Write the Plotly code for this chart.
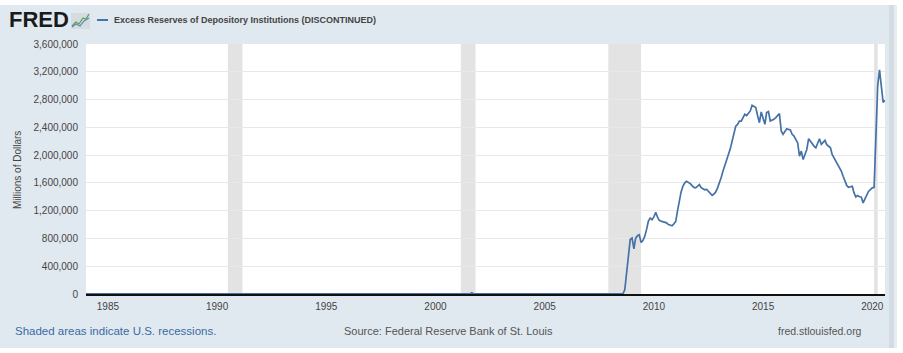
import pandas as pd
import plotly.graph_objects as go

# ---------------- data ----------------
# sparse points for the flat pre-2008 period (millions of dollars)
pre_dates = ["1984-01-01", "1987-01-01", "1990-01-01", "1995-01-01", "2001-08-01",
             "2001-09-01", "2001-10-01", "2005-01-01", "2007-12-01"]
pre_values = [1100, 1200, 1400, 1300, 1300, 19000, 1500, 1600, 1800]

# monthly values from 2008-01 to 2020-08, in thousands of millions of dollars
monthly_start = "2008-01-01"
monthly_values_k = [
    1.7, 1.7, 1.6, 1.9, 1.8, 2.1, 1.9, 1.9, 60, 270, 560, 785,          # 2008
    805, 650, 800, 840, 853, 742, 770, 830, 930, 1050, 1094, 1070,     # 2009
    1110, 1176, 1110, 1060, 1050, 1040, 1030, 1025, 1000, 990, 983, 1010,  # 2010
    1045, 1200, 1359, 1470, 1550, 1600, 1623, 1610, 1590, 1560, 1535, 1528,  # 2011
    1560, 1576, 1530, 1510, 1500, 1505, 1480, 1460, 1421, 1440, 1470, 1528,  # 2012
    1600, 1680, 1769, 1850, 1920, 1985, 2090, 2200, 2320, 2418, 2443, 2490,  # 2013
    2490, 2540, 2588, 2570, 2600, 2636, 2718, 2700, 2684, 2570, 2467, 2622,  # 2014
    2540, 2443, 2612, 2626, 2491, 2500, 2516, 2540, 2570, 2597, 2347, 2299,  # 2015
    2340, 2380, 2370, 2361, 2300, 2275, 2227, 2178, 1985, 2058, 1937, 2000,  # 2016
    2082, 2236, 2200, 2154, 2130, 2106, 2160, 2236, 2154, 2190, 2212, 2150,  # 2017
    2120, 2106, 2010, 1960, 1913, 1870, 1831, 1770, 1696, 1640, 1560, 1537,  # 2018
    1545, 1551, 1460, 1397, 1417, 1400, 1397, 1311, 1370, 1431, 1480, 1503,  # 2019
    1528, 1535, 2250, 2998, 3228, 3030, 2760, 2790,                          # 2020
]

recession_starts = ["1990-07-01", "2001-03-01", "2007-12-01", "2020-02-01"]
recession_ends = ["1991-03-01", "2001-11-01", "2009-06-01", "2020-04-01"]

tick_years = [1985, 1990, 1995, 2000, 2005, 2010, 2015, 2020]
y_ticks = [0, 400000, 800000, 1200000, 1600000, 2000000, 2400000, 2800000, 3200000, 3600000]

series_name = "Excess Reserves of Depository Institutions (DISCONTINUED)"

# ---------------- build ----------------
monthly_dates = pd.date_range(monthly_start, periods=len(monthly_values_k), freq="MS")
dates = list(pd.to_datetime(pre_dates)) + list(monthly_dates)
values = pre_values + [v * 1000 for v in monthly_values_k]

W, H = 903, 353
L, R, T, B = 86, 18, 44, 59
PW, PH = W - L - R, H - T - B


def px(x):
    return (x - L) / PW


def py(y):
    return (H - B - y) / PH


LINE_BLUE = "#4572a7"
BG = "#e1e9f0"
FONT = "Liberation Sans, Arial, sans-serif"

fig = go.Figure()
fig.add_trace(go.Scatter(x=dates, y=values, mode="lines",
                         line=dict(color=LINE_BLUE, width=1.7),
                         name=series_name, showlegend=False, hoverinfo="skip"))

shapes = []
for s, e in zip(recession_starts, recession_ends):
    shapes.append(dict(type="rect", xref="x", yref="paper", x0=s, x1=e, y0=0, y1=1,
                       fillcolor="#e3e3e3", line=dict(width=0), layer="below"))

# white frame around the grey-blue card
shapes.append(dict(type="rect", xref="paper", yref="paper", x0=px(0), x1=px(W), y0=py(-2), y1=py(5),
                   fillcolor="white", line=dict(width=0), layer="above"))
shapes.append(dict(type="rect", xref="paper", yref="paper", x0=px(0), x1=px(W), y0=py(348), y1=py(H + 2),
                   fillcolor="white", line=dict(width=0), layer="above"))
shapes.append(dict(type="rect", xref="paper", yref="paper", x0=px(889), x1=px(894), y0=py(348), y1=py(5),
                   fillcolor="#d3dbe3", line=dict(width=0), layer="above"))
shapes.append(dict(type="rect", xref="paper", yref="paper", x0=px(894), x1=px(897), y0=py(348), y1=py(5),
                   fillcolor="#e8ecf0", line=dict(width=0), layer="above"))
shapes.append(dict(type="rect", xref="paper", yref="paper", x0=px(897), x1=px(W + 2), y0=py(348), y1=py(5),
                   fillcolor="white", line=dict(width=0), layer="above"))

# FRED icon (small chart glyph)
shapes.append(dict(type="rect", xref="paper", yref="paper", x0=px(71), x1=px(90), y0=py(29), y1=py(13),
                   fillcolor="#d6dbe0", line=dict(width=0), layer="above"))
shapes.append(dict(type="path", xref="paper", yref="paper",
                   path=f"M {px(72)},{py(26)} L {px(76)},{py(22)} L {px(79)},{py(24)} L {px(83)},{py(18)} L {px(86)},{py(19)} L {px(89)},{py(14)}",
                   line=dict(color="#5aa050", width=1.2), layer="above"))
shapes.append(dict(type="path", xref="paper", yref="paper",
                   path=f"M {px(72)},{py(27)} L {px(76)},{py(24)} L {px(80)},{py(26)} L {px(84)},{py(21)} L {px(89)},{py(18)}",
                   line=dict(color="#5b86c0", width=1.2), layer="above"))
# legend line
shapes.append(dict(type="line", xref="paper", yref="paper", x0=px(97), x1=px(108), y0=py(20), y1=py(20),
                   line=dict(color=LINE_BLUE, width=2), layer="above"))

annotations = [
    dict(text="<b>FRED</b>", x=px(7), y=py(20), xref="paper", yref="paper", xanchor="left", yanchor="middle",
         showarrow=False, font=dict(family=FONT, size=22, color="#1a1a1a")),
    dict(text="<b>" + series_name + "</b>", x=px(112), y=py(20), xref="paper", yref="paper",
         xanchor="left", yanchor="middle", showarrow=False, font=dict(family=FONT, size=9, color="#444444")),
    dict(text="Millions of Dollars", x=px(17), y=py(170), xref="paper", yref="paper", textangle=-90,
         xanchor="center", yanchor="middle", showarrow=False, font=dict(family=FONT, size=10, color="#444444")),
    dict(text="Shaded areas indicate U.S. recessions.", x=px(13), y=py(331), xref="paper", yref="paper",
         xanchor="left", yanchor="middle", showarrow=False, font=dict(family=FONT, size=11.5, color="#3a6aa3")),
    dict(text="Source: Federal Reserve Bank of St. Louis", x=px(448), y=py(331), xref="paper", yref="paper",
         xanchor="center", yanchor="middle", showarrow=False, font=dict(family=FONT, size=11, color="#555555")),
    dict(text="fred.stlouisfed.org", x=px(864), y=py(331), xref="paper", yref="paper",
         xanchor="right", yanchor="middle", showarrow=False, font=dict(family=FONT, size=10.5, color="#555555")),
]

fig.update_layout(
    width=W, height=H,
    margin=dict(l=L, r=R, t=T, b=B, pad=0),
    paper_bgcolor=BG, plot_bgcolor="white",
    shapes=shapes, annotations=annotations,
    font=dict(family=FONT, size=10, color="#444444"),
    showlegend=False,
    xaxis=dict(type="date", range=["1984-01-01", "2020-08-01"],
               tickvals=[f"{y}-01-01" for y in tick_years], ticktext=[str(y) for y in tick_years],
               showgrid=False, showline=True, linecolor="#111111", linewidth=2,
               ticks="outside", ticklen=2, tickcolor="#dfe6ec",
               tickfont=dict(size=10, color="#444444"), zeroline=False, fixedrange=True),
    yaxis=dict(range=[0, 3600000], tickvals=y_ticks, ticktext=[f"{v:,}" for v in y_ticks],
               showgrid=True, gridcolor="#e8e8e8", gridwidth=1, zeroline=False,
               ticks="outside", ticklen=5, tickcolor="rgba(0,0,0,0)",
               tickfont=dict(size=10, color="#444444"), fixedrange=True),
)

fig.write_html("out.html", config={"displayModeBar": False})
